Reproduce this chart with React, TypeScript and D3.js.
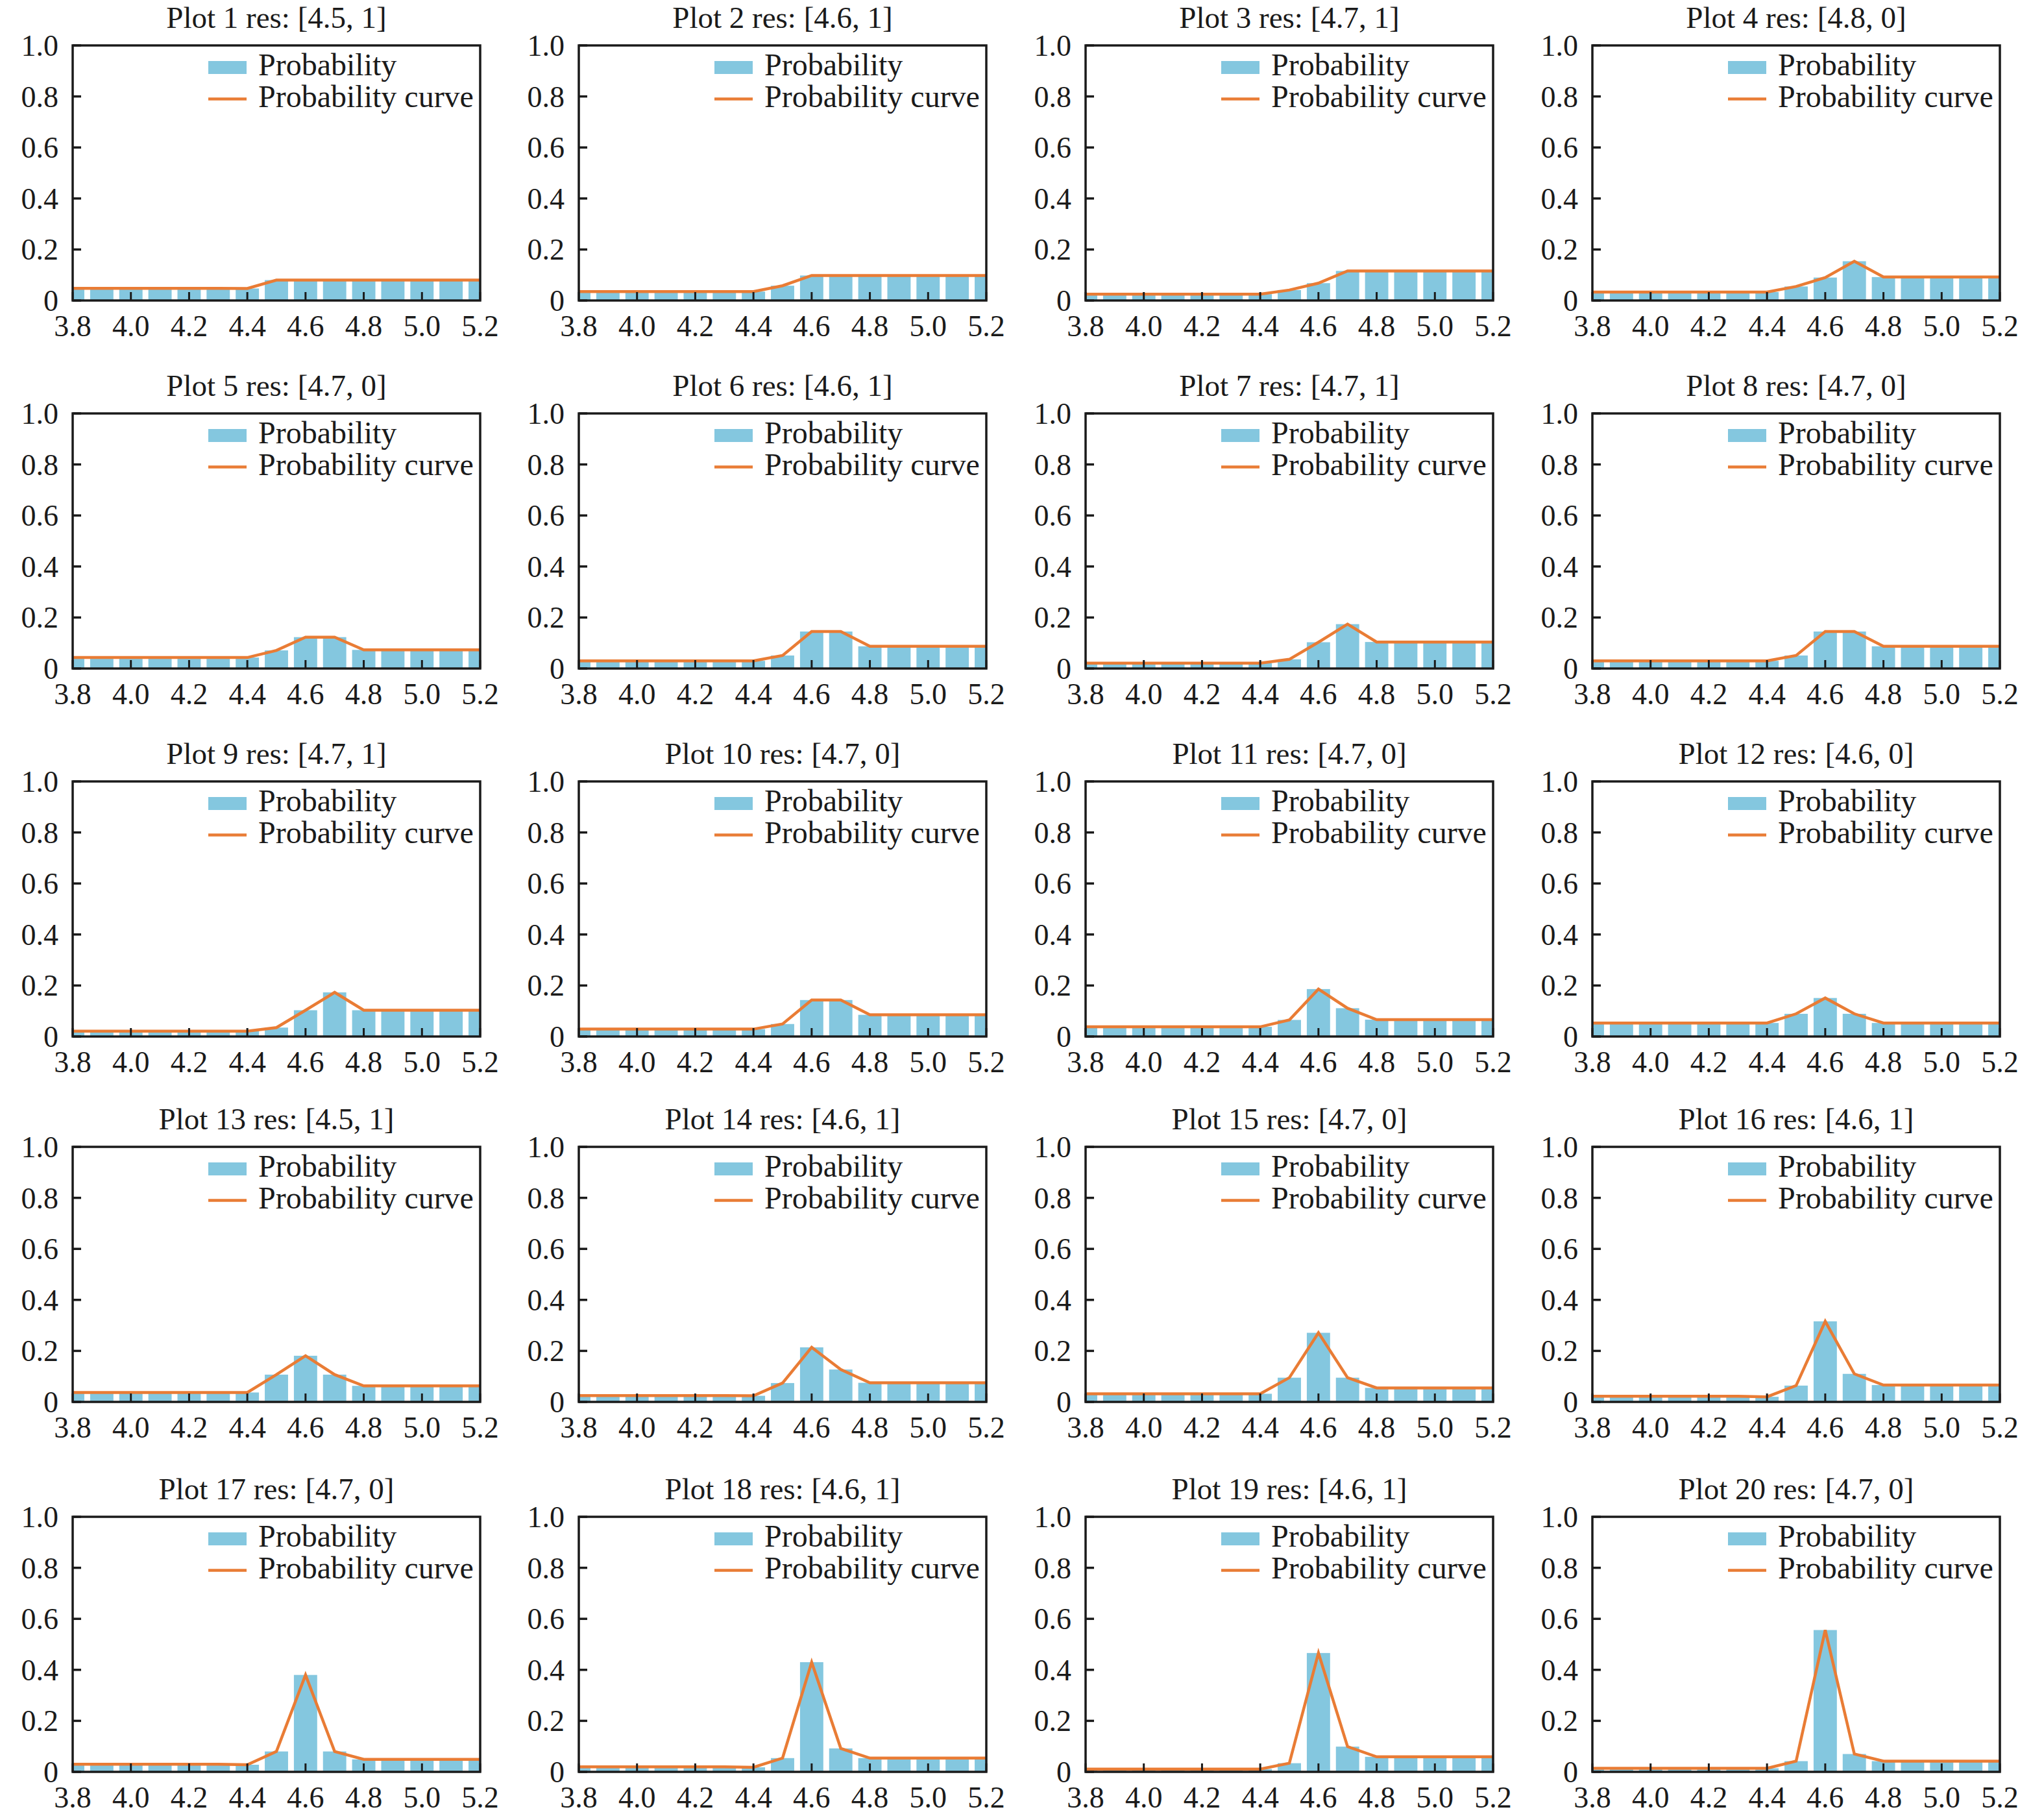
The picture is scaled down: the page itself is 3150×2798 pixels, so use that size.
import React from 'react';
import * as d3 from 'd3';

// bin centres shared by every panel
const xValues = [3.8, 3.9, 4.0, 4.1, 4.2, 4.3, 4.4, 4.5, 4.6, 4.7, 4.8, 4.9, 5.0, 5.1, 5.2];
const xTicks = [3.8, 4.0, 4.2, 4.4, 4.6, 4.8, 5.0, 5.2];
const yTicks = [0, 0.2, 0.4, 0.6, 0.8, 1.0];

const resLabels = [
  '[4.5, 1]', '[4.6, 1]', '[4.7, 1]', '[4.8, 0]',
  '[4.7, 0]', '[4.6, 1]', '[4.7, 1]', '[4.7, 0]',
  '[4.7, 1]', '[4.7, 0]', '[4.7, 0]', '[4.6, 0]',
  '[4.5, 1]', '[4.6, 1]', '[4.7, 0]', '[4.6, 1]',
  '[4.7, 0]', '[4.6, 1]', '[4.6, 1]', '[4.7, 0]',
];

// probabilities, 3.8 -> 5.2
const plot1 = [0.048, 0.048, 0.048, 0.048, 0.048, 0.048, 0.047, 0.080, 0.080, 0.080, 0.080, 0.080, 0.080, 0.080, 0.080];
const plot2 = [0.035, 0.035, 0.035, 0.035, 0.035, 0.035, 0.035, 0.058, 0.098, 0.098, 0.098, 0.098, 0.098, 0.098, 0.098];
const plot3 = [0.025, 0.025, 0.025, 0.025, 0.025, 0.025, 0.025, 0.041, 0.068, 0.116, 0.116, 0.116, 0.116, 0.116, 0.116];
const plot4 = [0.033, 0.033, 0.033, 0.033, 0.033, 0.033, 0.033, 0.055, 0.090, 0.154, 0.092, 0.092, 0.092, 0.092, 0.092];
const plot5 = [0.043, 0.043, 0.043, 0.043, 0.043, 0.043, 0.043, 0.071, 0.123, 0.123, 0.073, 0.073, 0.073, 0.073, 0.073];
const plot6 = [0.030, 0.030, 0.030, 0.030, 0.030, 0.030, 0.030, 0.051, 0.145, 0.145, 0.087, 0.087, 0.087, 0.087, 0.087];
const plot7 = [0.021, 0.021, 0.021, 0.021, 0.021, 0.021, 0.021, 0.036, 0.103, 0.174, 0.104, 0.104, 0.104, 0.104, 0.104];
const plot8 = [0.030, 0.030, 0.030, 0.030, 0.030, 0.030, 0.030, 0.051, 0.145, 0.145, 0.087, 0.087, 0.087, 0.087, 0.087];
const plot9 = [0.021, 0.021, 0.021, 0.021, 0.021, 0.021, 0.021, 0.035, 0.103, 0.173, 0.103, 0.103, 0.103, 0.103, 0.103];
const plot10 = [0.029, 0.029, 0.029, 0.029, 0.029, 0.029, 0.029, 0.049, 0.143, 0.143, 0.085, 0.085, 0.085, 0.085, 0.085];
const plot11 = [0.038, 0.038, 0.038, 0.038, 0.038, 0.038, 0.038, 0.065, 0.186, 0.111, 0.066, 0.066, 0.066, 0.066, 0.066];
const plot12 = [0.053, 0.053, 0.053, 0.053, 0.053, 0.053, 0.053, 0.089, 0.151, 0.089, 0.053, 0.053, 0.053, 0.053, 0.053];
const plot13 = [0.037, 0.037, 0.037, 0.037, 0.037, 0.037, 0.037, 0.107, 0.181, 0.107, 0.063, 0.063, 0.063, 0.063, 0.063];
const plot14 = [0.025, 0.025, 0.025, 0.025, 0.025, 0.025, 0.024, 0.074, 0.214, 0.127, 0.075, 0.075, 0.075, 0.075, 0.075];
const plot15 = [0.032, 0.032, 0.032, 0.032, 0.032, 0.032, 0.032, 0.095, 0.271, 0.095, 0.055, 0.055, 0.055, 0.055, 0.055];
const plot16 = [0.022, 0.022, 0.022, 0.022, 0.022, 0.022, 0.020, 0.064, 0.316, 0.110, 0.066, 0.066, 0.066, 0.066, 0.066];
const plot17 = [0.030, 0.030, 0.030, 0.030, 0.030, 0.030, 0.028, 0.080, 0.380, 0.080, 0.049, 0.049, 0.049, 0.049, 0.049];
const plot18 = [0.020, 0.020, 0.020, 0.020, 0.020, 0.020, 0.018, 0.054, 0.430, 0.092, 0.054, 0.054, 0.054, 0.054, 0.054];
const plot19 = [0.011, 0.011, 0.011, 0.011, 0.011, 0.011, 0.011, 0.034, 0.466, 0.099, 0.059, 0.059, 0.059, 0.059, 0.059];
const plot20 = [0.014, 0.014, 0.014, 0.014, 0.014, 0.014, 0.014, 0.042, 0.556, 0.070, 0.042, 0.042, 0.042, 0.042, 0.042];

const plots = [
  plot1, plot2, plot3, plot4, plot5, plot6, plot7, plot8, plot9, plot10,
  plot11, plot12, plot13, plot14, plot15, plot16, plot17, plot18, plot19, plot20,
];

const W = 3150;
const H = 2798;
const cols = 4;
const frameW = 628;
const frameH = 393;
const colLeft = [112, 892, 1673, 2454];
const rowTop = [70, 637, 1204, 1767, 2337];

const barColor = '#84c7df';
const lineColor = '#e97c35';
const ink = '#1a1a1a';
const font = '"Liberation Serif", "Times New Roman", serif';

const x = d3.scaleLinear().domain([3.8, 5.2]).range([0, frameW]);
const y = d3.scaleLinear().domain([0, 1]).range([frameH, 0]);
const barW = (x(3.9) - x(3.8)) * 0.8;

const line = d3.line<number>()
  .x((_, i) => x(xValues[i]))
  .y(d => y(d));

const Panel: React.FC<{ idx: number }> = ({ idx }) => {
  const data = plots[idx];
  const left = colLeft[idx % cols];
  const top = rowTop[Math.floor(idx / cols)];
  const clipId = `clip-${idx}`;

  return (
    <g transform={`translate(${left},${top})`}>
      <clipPath id={clipId}>
        <rect x={0} y={0} width={frameW} height={frameH} />
      </clipPath>
      <text x={frameW / 2} y={-27} textAnchor="middle" fontSize={47}>
        {`Plot ${idx + 1} res: ${resLabels[idx]}`}
      </text>

      <g clipPath={`url(#${clipId})`}>
        {data.map((d, i) => (
          <rect key={i}
            x={x(xValues[i]) - barW / 2}
            y={y(d)}
            width={barW}
            height={y(0) - y(d)}
            fill={barColor} />
        ))}
        <path d={line(data) || ''} fill="none" stroke={lineColor} strokeWidth={4.5} strokeLinejoin="miter" />
      </g>

      {/* inward ticks */}
      {yTicks.map(t => (
        <line key={`yt${t}`} x1={0} x2={13} y1={y(t)} y2={y(t)} stroke={ink} strokeWidth={3.5} />
      ))}
      {xTicks.map(t => (
        <line key={`xt${t}`} x1={x(t)} x2={x(t)} y1={frameH} y2={frameH - 13} stroke={ink} strokeWidth={3} />
      ))}
      <rect x={0} y={0} width={frameW} height={frameH} fill="none" stroke={ink} strokeWidth={3.5} />

      {yTicks.map(t => (
        <text key={`yl${t}`} x={-22} y={y(t) + 16} textAnchor="end" fontSize={46}>
          {t === 0 ? '0' : t.toFixed(1)}
        </text>
      ))}
      {xTicks.map(t => (
        <text key={`xl${t}`} x={x(t)} y={frameH + 55} textAnchor="middle" fontSize={46}>
          {t.toFixed(1)}
        </text>
      ))}

      {/* legend */}
      <rect x={209} y={24} width={59} height={20} fill={barColor} />
      <text x={286} y={46} fontSize={48}>Probability</text>
      <line x1={209} x2={268} y1={82.5} y2={82.5} stroke={lineColor} strokeWidth={4.5} />
      <text x={286} y={95} fontSize={48}>Probability curve</text>
    </g>
  );
};

export default function App() {
  return (
    <svg width={W} height={H} viewBox={`0 0 ${W} ${H}`}
      style={{ position: 'absolute', left: 0, top: 0, background: '#fff' }}
      fontFamily={font} fill={ink}>
      <rect width={W} height={H} fill="#fff" />
      {plots.map((_, i) => <Panel key={i} idx={i} />)}
    </svg>
  );
}
